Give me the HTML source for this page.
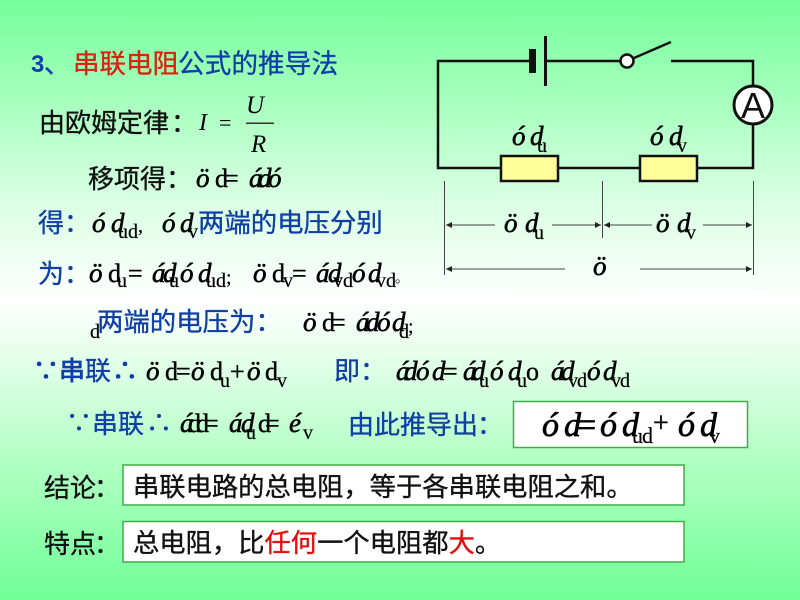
<!DOCTYPE html>
<html><head><meta charset="utf-8"><style>
html,body{margin:0;padding:0;width:800px;height:600px;overflow:hidden}
svg{display:block}
text{font-family:"Liberation Serif","Noto Sans CJK SC",serif}
.c{font-family:"Liberation Sans","Noto Sans CJK SC",sans-serif;font-size:26px;fill:#111;stroke:#111;stroke-width:.35}
.b{fill:#0f3fa6;stroke:#0f3fa6}
.r{fill:#e0200f;stroke:#e0200f}
.m{font-style:italic;font-size:27px;fill:#000;stroke:#000;stroke-width:.6}
.u{font-size:26px;fill:#000;stroke:#000;stroke-width:.4}
.s{font-size:20px;fill:#000;stroke:#000;stroke-width:.2}
.big{font-size:34px;stroke-width:.7}
.bs{font-size:22px}
</style></head><body>
<svg width="800" height="600" viewBox="0 0 800 600" xmlns="http://www.w3.org/2000/svg">
<defs><linearGradient id="g" x1="0" y1="0" x2="0" y2="1">
<stop offset="0" stop-color="#74ff99"/><stop offset=".33" stop-color="#d8ffe2"/><stop offset=".5" stop-color="#fff"/><stop offset=".75" stop-color="#b8ffc8"/><stop offset="1" stop-color="#70ff96"/></linearGradient></defs>
<rect width="800" height="600" fill="url(#g)"/>

<!-- title -->
<text x="31" y="72" style="font-family:'Liberation Sans',sans-serif;font-weight:bold;font-size:24px" fill="#0f3fa6">3</text>
<text x="44" y="73" class="c b">、</text>
<text x="73" y="73" class="c r" style="font-size:26.500px">串联电阻</text>
<text x="178" y="73" class="c b" style="font-size:26.700px">公式的推导法</text>

<!-- ohm -->
<text x="39" y="132" class="c">由欧姆定律<tspan dx="2">：</tspan></text>
<text x="199" y="130" class="m" style="stroke-width:0;font-size:24px">I</text>
<text x="219" y="130" class="u" style="font-size:22px;stroke-width:0">=</text>
<text x="246" y="113" class="m" style="stroke-width:0;font-size:25px">U</text>
<rect x="246" y="122.500" width="28" height="1.500" fill="#333"/>
<text x="251" y="152" class="m" style="stroke-width:0;font-size:25px">R</text>

<text x="88" y="188" class="c">移项得：</text>
<text x="196" y="187" class="m">ö</text><text x="215" y="187" class="u">d</text><text x="224" y="187" class="u">=</text>
<text x="249" y="187" class="m">á</text><text x="258" y="187" class="m">d</text><text x="268" y="187" class="m">ó</text>

<!-- line: de -->
<text x="38" y="232" class="c b">得：</text>
<text x="92" y="232" class="m">ó</text><text x="111" y="232" class="m">d</text>
<text x="118" y="238" class="s">u</text><text x="128" y="238" class="s">d</text><text x="138" y="232" class="s">,</text>
<text x="162" y="232" class="m">ó</text><text x="180" y="232" class="m">d</text><text x="188" y="238" class="s">v</text>
<text x="198" y="232" class="c b" style="font-size:26.400px">两端的电压分别</text>

<!-- line: wei -->
<text x="38" y="283" class="c b">为：</text>
<text x="89" y="282" class="m">ö</text><text x="108" y="282" class="u">d</text><text x="117" y="287" class="s">u</text><text x="128" y="282" class="u">=</text>
<text x="152" y="282" class="m">á</text><text x="163" y="282" class="m">d</text><text x="169" y="287" class="s">u</text><text x="180" y="282" class="m">ó</text><text x="198" y="282" class="m">d</text><text x="206" y="287" class="s">u</text><text x="216" y="287" class="s">d</text><text x="226" y="284" class="s">;</text>
<text x="253" y="282" class="m">ö</text><text x="272" y="282" class="u">d</text><text x="283" y="287" class="s">v</text><text x="292" y="282" class="u">=</text>
<text x="316" y="282" class="m">á</text><text x="328" y="282" class="m">d</text><text x="333" y="287" class="s">v</text><text x="343" y="287" class="s">d</text><text x="352" y="282" class="m">ó</text><text x="368" y="282" class="m">d</text><text x="376" y="287" class="s">v</text><text x="386" y="287" class="s">d</text><text x="395" y="284" class="s" style="font-size:9px">○</text>

<!-- line: d -->
<text x="90" y="338" class="s">d</text>
<text x="97" y="331" class="c b" style="font-size:26.400px">两端的电压为：</text>
<text x="303" y="331" class="m">ö</text><text x="322" y="331" class="u">d</text><text x="331" y="331" class="u">=</text>
<text x="356" y="331" class="m">á</text><text x="366" y="331" class="m">d</text><text x="377" y="331" class="m">ó</text><text x="392" y="331" class="m">d</text><text x="399" y="338" class="s">d</text><text x="408" y="333" class="s">;</text>

<!-- because 1 -->
<text x="33" y="380" class="c b" style="stroke-width:.8">∵</text>
<text x="59" y="380" class="c b" style="stroke-width:.8">串</text>
<text x="85" y="380" class="c b">联</text>
<text x="112" y="380" class="c b" style="stroke-width:.8">∴</text>
<text x="146" y="380" class="m">ö</text><text x="165" y="380" class="u">d</text><text x="176" y="380" class="u">=</text>
<text x="191" y="380" class="m">ö</text><text x="210" y="380" class="u">d</text><text x="220" y="387" class="s">u</text><text x="230" y="380" class="u">+</text>
<text x="247" y="380" class="m">ö</text><text x="265" y="380" class="u">d</text><text x="277" y="387" class="s">v</text>
<text x="334" y="380" class="c b">即：</text>
<text x="396" y="380" class="m">á</text><text x="404" y="380" class="m">d</text><text x="416" y="380" class="m">ó</text><text x="432" y="380" class="m">d</text><text x="443" y="380" class="u">=</text>
<text x="463" y="380" class="m">á</text><text x="472" y="380" class="m">d</text><text x="479" y="387" class="s">u</text><text x="490" y="380" class="m">ó</text><text x="508" y="380" class="m">d</text><text x="517" y="387" class="s">u</text><text x="526" y="380" class="u">o</text>
<text x="551" y="380" class="m">á</text><text x="561" y="380" class="m">d</text><text x="568" y="387" class="s">v</text><text x="577" y="387" class="s">d</text><text x="587" y="380" class="m">ó</text><text x="603" y="380" class="m">d</text><text x="611" y="387" class="s">v</text><text x="620" y="387" class="s">d</text>

<!-- because 2 -->
<text x="66" y="432" class="c b">∵</text>
<text x="92" y="433" class="c b">串联</text>
<text x="146" y="432" class="c b">∴</text>
<text x="180" y="432" class="m">á</text><text x="188" y="432" class="u">d</text><text x="196" y="432" class="u">d</text><text x="204" y="432" class="u">=</text>
<text x="229" y="432" class="m">á</text><text x="241" y="432" class="m">d</text><text x="246" y="439" class="s">u</text><text x="258" y="432" class="u">d</text><text x="265" y="432" class="u">=</text>
<text x="289" y="432" class="m">é</text><text x="303" y="439" class="s">v</text>
<text x="348" y="434" class="c b">由此推导出<tspan dx="-1">：</tspan></text>

<!-- result box -->
<rect x="513.500" y="401.500" width="234" height="46" fill="#fff" stroke="#3fae45" stroke-width="1.500"/>
<text x="542" y="436" class="m big">ó</text><text x="564" y="436" class="m big">d</text><text x="577" y="436" class="u big">=</text>
<text x="600" y="436" class="m big">ó</text><text x="622" y="436" class="m big">d</text><text x="632" y="443" class="s bs">u</text><text x="642" y="443" class="s bs">d</text>
<text x="653" y="432" class="u" style="font-size:28px">+</text>
<text x="678" y="436" class="m big">ó</text><text x="700" y="436" class="m big">d</text><text x="709" y="443" class="s bs">v</text>

<!-- conclusions -->
<rect x="123" y="465" width="561" height="40" fill="#fff" stroke="#3fae45" stroke-width="1.500"/>
<rect x="123" y="521.500" width="561" height="40.500" fill="#fff" stroke="#3fae45" stroke-width="1.500"/>
<text x="44" y="497" class="c">结论<tspan dx="-2">：</tspan></text>
<text x="44" y="553" class="c">特点<tspan dx="-2">：</tspan></text>
<text x="133" y="496" class="c" style="font-size:26.300px">串联电路的总电阻，等于各串联电阻之和。</text>
<text x="133" y="552" class="c" style="font-size:26.300px">总电阻，比<tspan style="fill:#e01010;stroke:#e01010">任何</tspan>一个电阻都<tspan style="fill:#e01010;stroke:#e01010">大</tspan>。</text>

<!-- circuit -->
<g fill="none" stroke="#111" stroke-width="2.500">
<path d="M531 61H438V168H501M558 168H640M697 168H753V61H671M547 61H620M634 58L671 42"/>
<rect x="501" y="156" width="57" height="25" fill="#ffff99"/>
<rect x="640" y="156" width="57" height="25" fill="#ffff99"/>
<circle cx="627" cy="61" r="6.500" fill="#fff"/>
<circle cx="753" cy="105" r="19" fill="#fff" stroke-width="3"/>
</g>
<rect x="529" y="49" width="7" height="24" fill="#111"/>
<rect x="544" y="36" width="3" height="50" fill="#111"/>
<text x="753" y="118" text-anchor="middle" style="font-family:'Liberation Sans',sans-serif;font-size:36px" fill="#111">A</text>

<text x="512" y="145" class="m">ó</text><text x="530" y="145" class="m">d</text><text x="537" y="152" class="s">u</text>
<text x="650" y="145" class="m">ó</text><text x="669" y="145" class="m">d</text><text x="677" y="152" class="s">v</text>

<!-- dimensions -->
<g stroke="#444" stroke-width="1" fill="none">
<path d="M444.500 181V275M602.500 181V238M753.500 181V275"/>
<path d="M446 225H495M552 225H601M604 225H652M703 225H752M446 269H565M640 269H752"/>
</g>
<g fill="#222">
<path d="M446 225l6-3v6zM601 225l-6-3v6zM604 225l6-3v6zM752 225l-6-3v6zM446 269l6-3v6zM752 269l-6-3v6z"/>
</g>
<text x="504" y="232" class="m">ö</text><text x="525" y="232" class="m">d</text><text x="534" y="239" class="s">u</text>
<text x="656" y="232" class="m">ö</text><text x="677" y="232" class="m">d</text><text x="686" y="239" class="s">v</text>
<text x="593" y="275" class="m">ö</text>
</svg>
</body></html>
